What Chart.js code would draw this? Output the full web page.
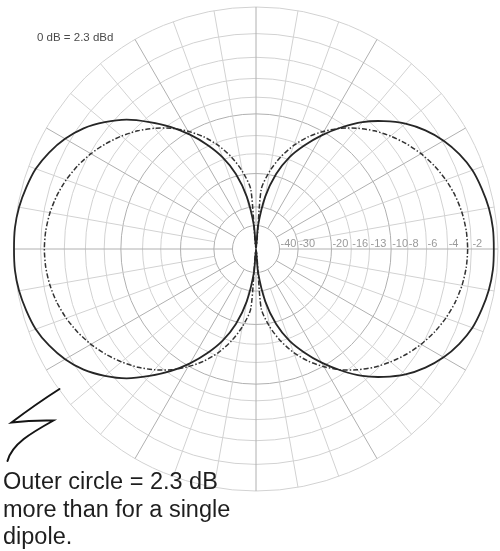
<!DOCTYPE html>
<html>
<head>
<meta charset="utf-8">
<script src="https://cdn.jsdelivr.net/npm/chart.js@4/dist/chart.umd.min.js"></script>
<style>
  html, body { margin: 0; padding: 0; background: #fff; }
  #wrap { position: relative; width: 500px; height: 551px; overflow: hidden; }
  #chart { position: absolute; left: 0; top: 0; }
  .note { position: absolute; font-family: "Liberation Sans", Arial, sans-serif; white-space: nowrap; }
  #ref { left: 37px; top: 31px; font-size: 11.5px; color: #4a4a4a; }
  #caption { left: 3px; top: 468px; font-size: 23.5px; line-height: 27.5px; color: #1e1e1e; }
  #squiggle { position: absolute; left: 0; top: 0; }
</style>
</head>
<body>
<div id="wrap">
  <canvas id="chart" width="500" height="551"></canvas>
  <div class="note" id="ref">0 dB = 2.3 dBd</div>
  <svg id="squiggle" width="500" height="551">
    <path d="M59.5,389 Q36,404 11.5,422.5 Q32,420 53.5,420.5 C31,433 12,444 7.5,461" fill="none" stroke="#151515" stroke-width="2" stroke-linecap="round" stroke-linejoin="miter"/>
  </svg>
  <div class="note" id="caption">Outer circle = 2.3 dB<br>more than for a single<br>dipole.</div>
</div>
<script>
// Elevation angles, degrees counter-clockwise from the right-hand horizon
const angles = [
  0, 5, 10, 15, 20, 25, 30, 35, 40, 45, 50, 55, 60, 65, 70, 75, 80, 85,
  90, 95, 100, 105, 110, 115, 120, 125, 130, 135, 140, 145, 150, 155, 160, 165,
  170, 175, 180, 185, 190, 195, 200, 205, 210, 215, 220, 225, 230, 235, 240, 245,
  250, 255, 260, 265, 270, 275, 280, 285, 290, 295, 300, 305, 310, 315, 320, 325,
  330, 335, 340, 345, 350, 355
];

// Array pattern (solid), dB relative to the outer circle
const arrayDb = [
  -0.3, -0.3, -0.4, -0.6, -0.85, -1.3, -1.9, -2.7, -3.7, -5.0, -6.5, -8.4, -10.5, -12.9, -15.6, -19.5, -26, -40,
  -99, -40, -26, -19.5, -15.6, -12.8, -10.4, -8.3, -6.5, -4.8, -3.5, -2.4, -1.6, -1.0, -0.55, -0.3,
  -0.1, 0, 0, 0, -0.1, -0.3, -0.55, -1.0, -1.6, -2.4, -3.5, -4.8, -6.5, -8.3, -10.4, -12.8,
  -15.6, -19.5, -26, -40, -99, -40, -26, -19.5, -15.6, -12.9, -10.5, -8.4, -6.5, -5.0, -3.7, -2.7,
  -1.9, -1.3, -0.85, -0.6, -0.4, -0.3
];

// Single dipole (dash-dot), dB relative to the outer circle
const dipoleDb = [
  -2.3, -2.35, -2.5, -2.75, -3.1, -3.55, -4.1, -4.75, -5.5, -6.35, -7.35, -8.5, -9.9, -11.5, -13.5, -16.0, -19.2, -24,
  -99, -24, -19.2, -16.0, -13.5, -11.5, -9.9, -8.5, -7.35, -6.35, -5.5, -4.75, -4.1, -3.55, -3.1, -2.75,
  -2.5, -2.35, -2.3, -2.35, -2.5, -2.75, -3.1, -3.55, -4.1, -4.75, -5.5, -6.35, -7.35, -8.5, -9.9, -11.5,
  -13.5, -16.0, -19.2, -24, -99, -24, -19.2, -16.0, -13.5, -11.5, -9.9, -8.5, -7.35, -6.35, -5.5, -4.75,
  -4.1, -3.55, -3.1, -2.75, -2.5, -2.35
];

// Grid circles (dB) and the labels printed along the horizon
const ringDb = [-40, -30, -20, -16, -13, -10, -8, -6, -4, -2, 0];
const ringLabels = ['-40', '-30', '-20', '-16', '-13', '-10', '-8', '-6', '-4', '-2', ''];
const majorRings = [-40, -30, -20, -10];

// ARRL log-periodic radius: each 2 dB step shrinks the radius by 0.89
const toRadius = db => Math.pow(0.89, -db / 2);

// Chart.js walks clockwise from the start angle, so feed the points in reverse order
const n = angles.length;
const clockwise = arr => arr.map((_, i) => arr[(n - i) % n]);
const chartLabels = clockwise(angles).map(a => a + '°');

const ringTicks = [{ value: 0 }].concat(ringDb.map(db => ({ value: toRadius(db) })));

const gridPlugin = {
  id: 'arrlGrid',
  beforeDatasetsDraw(chart) {
    const s = chart.scales.r;
    const ctx = chart.ctx;
    const inner30 = toRadius(-30);
    const inner40 = toRadius(-40);
    ctx.save();
    ctx.lineWidth = 1;
    // spokes every 10°, the 30° ones reach in to the innermost circle
    for (let deg = 0; deg < 360; deg += 10) {
      const idx = deg / 5;
      const major = deg % 30 === 0;
      const a = s.getPointPositionForValue(idx, major ? inner40 : inner30);
      const b = s.getPointPositionForValue(idx, 1);
      ctx.strokeStyle = major ? '#b0b0b0' : '#d2d2d2';
      ctx.beginPath();
      ctx.moveTo(a.x, a.y);
      ctx.lineTo(b.x, b.y);
      ctx.stroke();
    }
    // ring values along the right-hand horizon
    ctx.font = '11px "Liberation Sans", Arial, sans-serif';
    ctx.fillStyle = '#9a9a9a';
    ctx.textAlign = 'left';
    ctx.textBaseline = 'middle';
    ringDb.forEach((db, i) => {
      if (!ringLabels[i]) return;
      const d = s.getDistanceFromCenterForValue(toRadius(db));
      ctx.fillText(ringLabels[i], s.xCenter + d + 1, s.yCenter - 5);
    });
    ctx.restore();
  }
};

new Chart(document.getElementById('chart'), {
  type: 'radar',
  data: {
    labels: chartLabels,
    datasets: [
      {
        label: 'Array',
        data: clockwise(arrayDb).map(toRadius),
        borderColor: '#262626',
        borderWidth: 1.8,
        fill: false,
        pointRadius: 0,
        tension: 0.25
      },
      {
        label: 'Single dipole',
        data: clockwise(dipoleDb).map(toRadius),
        borderColor: '#333333',
        borderWidth: 1.5,
        borderDash: [5, 2, 1.5, 2],
        fill: false,
        pointRadius: 0,
        tension: 0.25
      }
    ]
  },
  options: {
    responsive: false,
    devicePixelRatio: 1,
    animation: false,
    layout: { padding: { left: 14, right: 1, top: 7, bottom: 60 } },
    plugins: { legend: { display: false }, tooltip: { enabled: false } },
    scales: {
      r: {
        min: 0,
        max: 1,
        startAngle: 90,
        angleLines: { display: false },
        pointLabels: { display: false },
        ticks: { display: false },
        afterBuildTicks: scale => { scale.ticks = ringTicks.map(t => ({ value: t.value })); },
        grid: {
          circular: true,
          lineWidth: 1,
          color: ctx => {
            const i = ctx.index - 1;
            return majorRings.includes(ringDb[i]) ? '#b0b0b0' : '#d2d2d2';
          }
        }
      }
    }
  },
  plugins: [gridPlugin]
});
</script>
</body>
</html>
